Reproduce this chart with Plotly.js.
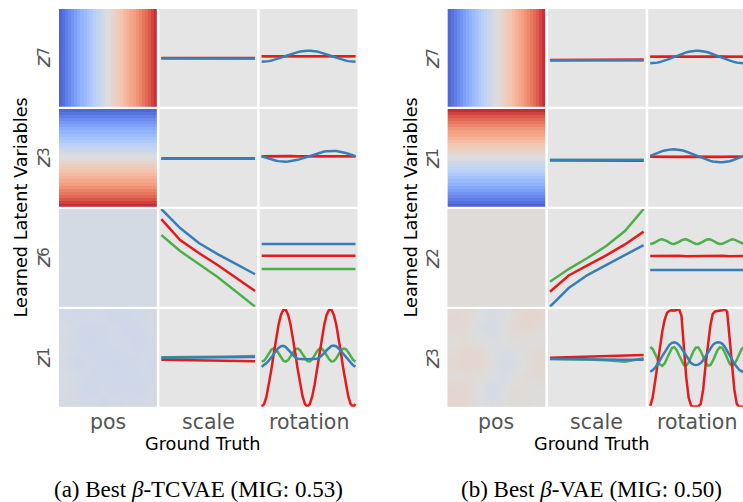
<!DOCTYPE html>
<html>
<head>
<meta charset="utf-8">
<script src="https://cdn.plot.ly/plotly-3.0.1.min.js"></script>
<style>
  html, body { margin: 0; padding: 0; background: #ffffff; }
  #chart { width: 743px; height: 502px; }
</style>
</head>
<body>
<div id="chart"></div>
<script>
// ---------- ground-truth factor values ----------
const scaleVals = [0.5, 0.6, 0.7, 0.8, 0.9, 1.0];
const rotDeg = [0, 9.2, 18.5, 27.7, 36.9, 46.2, 55.4, 64.6, 73.8, 83.1, 92.3, 101.5, 110.8, 120, 129.2,
  138.5, 147.7, 156.9, 166.2, 175.4, 184.6, 193.8, 203.1, 212.3, 221.5, 230.8, 240, 249.2, 258.5,
  267.7, 276.9, 286.2, 295.4, 304.6, 313.8, 323.1, 332.3, 341.5, 350.8, 360];
const rotDegCoarse = [0, 27.7, 55.4, 83.1, 110.8, 138.5, 166.2, 193.8, 221.5, 249.2, 276.9, 304.6, 332.3, 360];

const colLabels = ['pos', 'scale', 'rotation'];
const tcRowLabels = ['7', '3', '6', '1'];
const bvRowLabels = ['7', '1', '2', '3'];

// ---------- beta-TCVAE : mean latent vs position (coolwarm maps) ----------
const tcZ7Pos = [-0.88, -0.83, -0.77, -0.71, -0.65, -0.59, -0.53, -0.47, -0.42, -0.36, -0.31, -0.25, -0.19, -0.14, -0.08, -0.03,
  0.03, 0.08, 0.14, 0.19, 0.25, 0.31, 0.36, 0.42, 0.47, 0.53, 0.59, 0.65, 0.71, 0.77, 0.83, 0.88];
const tcZ3Pos = [-0.87, -0.82, -0.76, -0.70, -0.64, -0.58, -0.52, -0.47, -0.41, -0.35, -0.30, -0.24, -0.18, -0.13, -0.07, -0.02,
  0.04, 0.09, 0.15, 0.20, 0.26, 0.31, 0.37, 0.42, 0.48, 0.54, 0.60, 0.66, 0.72, 0.78, 0.84, 0.89];
const tcZ6Pos = -0.06;
const tcZ1Pos = [
  [-0.08, -0.09, -0.07, -0.08, -0.10, -0.09, -0.08, -0.07],
  [-0.04, -0.08, -0.10, -0.09, -0.08, -0.10, -0.09, -0.06],
  [-0.06, -0.09, -0.11, -0.10, -0.07, -0.08, -0.10, -0.08],
  [-0.05, -0.08, -0.09, -0.11, -0.10, -0.08, -0.09, -0.07],
  [-0.07, -0.10, -0.08, -0.09, -0.11, -0.10, -0.08, -0.09],
  [-0.03, -0.07, -0.09, -0.10, -0.09, -0.11, -0.09, -0.08],
  [-0.05, -0.08, -0.10, -0.08, -0.10, -0.09, -0.10, -0.07],
  [-0.06, -0.07, -0.08, -0.09, -0.08, -0.07, -0.08, -0.06]];

// ---------- beta-TCVAE : mean latent vs scale ----------
const tcZ7ScaleG = [-0.02, -0.02, -0.02, -0.02, -0.02, -0.02];
const tcZ7ScaleR = [-0.01, -0.01, -0.01, -0.01, -0.01, -0.01];
const tcZ7ScaleB = [-0.02, -0.02, -0.03, -0.02, -0.03, -0.03];
const tcZ3ScaleG = [-0.04, -0.04, -0.04, -0.04, -0.04, -0.04];
const tcZ3ScaleR = [-0.03, -0.03, -0.03, -0.03, -0.03, -0.03];
const tcZ3ScaleB = [-0.04, -0.04, -0.05, -0.04, -0.04, -0.05];
const tcZ6ScaleG = [1.14, 0.34, -0.31, -0.96, -1.69, -2.44];
const tcZ6ScaleR = [1.93, 0.89, 0.24, -0.36, -1.01, -1.66];
const tcZ6ScaleB = [2.44, 1.49, 0.74, 0.19, -0.31, -0.82];
const tcZ1ScaleG = [0.03, 0.03, 0.04, 0.05, 0.07, 0.09];
const tcZ1ScaleR = [-0.10, -0.11, -0.12, -0.14, -0.15, -0.17];
const tcZ1ScaleB = [0.01, 0.01, 0.01, 0.02, 0.03, 0.04];

// ---------- beta-TCVAE : mean latent vs rotation ----------
const tcZ7RotG = [0.08, 0.08, 0.08, 0.08, 0.08, 0.08, 0.08, 0.08, 0.08, 0.08, 0.08, 0.08, 0.08, 0.08];
const tcZ7RotR = [0.08, 0.08, 0.09, 0.08, 0.08, 0.09, 0.08, 0.08, 0.09, 0.08, 0.08, 0.09, 0.08, 0.08];
const tcZ7RotB = [-0.195, -0.191, -0.181, -0.164, -0.140, -0.110, -0.076, -0.038, 0.003, 0.047, 0.091, 0.135, 0.178,
  0.218, 0.254, 0.286, 0.312, 0.333, 0.347, 0.354, 0.354, 0.347, 0.333, 0.312, 0.286, 0.254, 0.218, 0.178,
  0.135, 0.091, 0.047, 0.003, -0.038, -0.076, -0.110, -0.140, -0.164, -0.181, -0.191, -0.195];
const tcZ3RotG = [0.08, 0.08, 0.08, 0.08, 0.08, 0.08, 0.08, 0.08, 0.08, 0.08, 0.08, 0.08, 0.08, 0.08];
const tcZ3RotR = [0.08, 0.09, 0.08, 0.08, 0.09, 0.08, 0.08, 0.08, 0.09, 0.08, 0.08, 0.09, 0.08, 0.08];
const tcZ3RotB = [0.080, 0.037, -0.005, -0.045, -0.082, -0.115, -0.142, -0.164, -0.179, -0.188, -0.190, -0.185, -0.172,
  -0.154, -0.129, -0.099, -0.064, -0.026, 0.015, 0.058, 0.102, 0.145, 0.186, 0.224, 0.259, 0.289, 0.314,
  0.332, 0.345, 0.350, 0.348, 0.339, 0.324, 0.302, 0.275, 0.242, 0.205, 0.165, 0.123, 0.080];
const tcZ6RotG = [-0.56, -0.56, -0.55, -0.56, -0.56, -0.57, -0.56, -0.56, -0.55, -0.56, -0.56, -0.56, -0.57, -0.56];
const tcZ6RotR = [0.11, 0.11, 0.10, 0.11, 0.12, 0.11, 0.10, 0.11, 0.11, 0.12, 0.11, 0.10, 0.11, 0.11];
const tcZ6RotB = [0.69, 0.69, 0.70, 0.69, 0.69, 0.68, 0.69, 0.70, 0.69, 0.69, 0.69, 0.70, 0.69, 0.69];
const tcZ1RotG = [-0.189, -0.139, 0.023, 0.232, 0.404, 0.470, 0.404, 0.232, 0.023, -0.139, -0.189, -0.107, 0.074,
  0.281, 0.432, 0.466, 0.369, 0.180, -0.025, -0.164, -0.180, -0.069, 0.127, 0.327, 0.453, 0.453, 0.327,
  0.127, -0.069, -0.180, -0.164, -0.025, 0.180, 0.369, 0.466, 0.432, 0.281, 0.074, -0.107, -0.189];
const tcZ1RotR = [-2.440, -2.308, -1.925, -1.334, -0.599, 0.202, 0.980, 1.653, 2.146, 2.407, 2.407, 2.146, 1.653,
  0.980, 0.202, -0.599, -1.334, -1.925, -2.308, -2.440, -2.308, -1.925, -1.334, -0.599, 0.202, 0.980, 1.653,
  2.146, 2.407, 2.407, 2.146, 1.653, 0.980, 0.202, -0.599, -1.334, -1.925, -2.308, -2.440, -2.308];
const tcZ1RotB = [-0.44, -0.36, -0.26, -0.13, 0.02, 0.18, 0.35, 0.50, 0.58, 0.60, 0.54, 0.42, 0.27, 0.13, 0.02,
  -0.04, -0.06, -0.07, -0.07, -0.07, -0.07, -0.07, -0.06, -0.04, 0.01, 0.10, 0.23, 0.38, 0.51, 0.59, 0.61,
  0.57, 0.47, 0.33, 0.17, 0.01, -0.14, -0.27, -0.37, -0.44];

// ---------- beta-VAE : mean latent vs position ----------
const bvZ7Pos = [-0.87, -0.82, -0.77, -0.71, -0.65, -0.59, -0.54, -0.48, -0.42, -0.37, -0.31, -0.25, -0.20, -0.14, -0.09, -0.03,
  0.02, 0.08, 0.13, 0.19, 0.24, 0.30, 0.36, 0.41, 0.47, 0.53, 0.58, 0.64, 0.70, 0.76, 0.82, 0.88];
const bvZ1Pos = [0.89, 0.83, 0.77, 0.71, 0.65, 0.59, 0.53, 0.47, 0.41, 0.36, 0.30, 0.24, 0.19, 0.13, 0.08, 0.02,
  -0.03, -0.09, -0.14, -0.20, -0.25, -0.31, -0.37, -0.42, -0.48, -0.54, -0.60, -0.66, -0.72, -0.78, -0.83, -0.89];
const bvZ2Pos = 0.02;
const bvZ3Pos = [
  [0.07, 0.06, 0.00, -0.04, -0.03, 0.04, 0.08, 0.07],
  [0.06, 0.04, -0.03, -0.06, -0.01, 0.06, 0.07, 0.04],
  [0.01, 0.03, 0.00, -0.03, 0.00, 0.03, 0.01, 0.00],
  [0.04, 0.07, 0.06, 0.00, -0.04, -0.03, 0.03, 0.06],
  [0.06, 0.08, 0.07, 0.01, -0.06, -0.04, 0.01, 0.07],
  [0.03, 0.04, 0.03, -0.01, -0.04, 0.00, 0.04, 0.06],
  [0.07, 0.06, 0.00, -0.06, -0.03, 0.03, 0.01, 0.00],
  [0.08, 0.07, 0.01, -0.04, -0.01, 0.04, 0.03, 0.01]];

// ---------- beta-VAE : mean latent vs scale ----------
const bvZ7ScaleG = [-0.12, -0.12, -0.12, -0.12, -0.12, -0.12];
const bvZ7ScaleR = [-0.11, -0.11, -0.10, -0.10, -0.09, -0.08];
const bvZ7ScaleB = [-0.12, -0.12, -0.12, -0.12, -0.12, -0.12];
const bvZ1ScaleG = [-0.11, -0.11, -0.11, -0.11, -0.11, -0.11];
const bvZ1ScaleR = [-0.12, -0.12, -0.13, -0.13, -0.13, -0.14];
const bvZ1ScaleB = [-0.11, -0.11, -0.11, -0.11, -0.11, -0.11];
const bvZ2ScaleG = [-1.19, -0.56, -0.01, 0.59, 1.34, 2.44];
const bvZ2ScaleR = [-1.69, -0.88, -0.38, 0.12, 0.67, 1.31];
const bvZ2ScaleB = [-2.44, -1.51, -0.86, -0.36, 0.12, 0.64];
const bvZ3ScaleG = [-0.05, -0.06, -0.08, -0.12, -0.19, -0.02];
const bvZ3ScaleR = [0.01, 0.03, 0.05, 0.07, 0.10, 0.14];
const bvZ3ScaleB = [-0.06, -0.06, -0.07, -0.08, -0.09, -0.10];

// ---------- beta-VAE : mean latent vs rotation ----------
const bvZ7RotG = [0.05, 0.05, 0.05, 0.05, 0.05, 0.05, 0.05, 0.05, 0.05, 0.05, 0.05, 0.05, 0.05, 0.05];
const bvZ7RotR = [0.06, 0.07, 0.05, 0.06, 0.07, 0.05, 0.06, 0.07, 0.05, 0.06, 0.07, 0.05, 0.06, 0.06];
const bvZ7RotB = [-0.275, -0.271, -0.259, -0.239, -0.212, -0.178, -0.139, -0.095, -0.048, 0.002, 0.053, 0.103, 0.152,
  0.198, 0.239, 0.276, 0.306, 0.330, 0.346, 0.354, 0.354, 0.346, 0.330, 0.306, 0.276, 0.239, 0.198, 0.152,
  0.103, 0.053, 0.002, -0.048, -0.095, -0.139, -0.178, -0.212, -0.239, -0.259, -0.271, -0.275];
const bvZ1RotG = [0.06, 0.06, 0.06, 0.06, 0.06, 0.06, 0.06, 0.06, 0.06, 0.06, 0.06, 0.06, 0.06, 0.06];
const bvZ1RotR = [0.05, 0.04, 0.06, 0.05, 0.04, 0.06, 0.05, 0.04, 0.06, 0.05, 0.04, 0.06, 0.05, 0.05];
const bvZ1RotB = [0.100, 0.152, 0.203, 0.251, 0.295, 0.334, 0.367, 0.394, 0.412, 0.423, 0.425, 0.418, 0.404, 0.381,
  0.352, 0.316, 0.274, 0.227, 0.178, 0.126, 0.074, 0.022, -0.027, -0.074, -0.116, -0.152, -0.181, -0.204,
  -0.218, -0.225, -0.223, -0.212, -0.194, -0.167, -0.134, -0.095, -0.051, -0.003, 0.048, 0.100];
const bvZ2RotG = [0.690, 0.714, 0.777, 0.853, 0.911, 0.930, 0.900, 0.834, 0.759, 0.704, 0.692, 0.727, 0.796, 0.870,
  0.920, 0.927, 0.886, 0.815, 0.742, 0.696, 0.696, 0.742, 0.815, 0.886, 0.927, 0.920, 0.870, 0.796, 0.727,
  0.692, 0.704, 0.759, 0.834, 0.900, 0.930, 0.911, 0.853, 0.777, 0.714, 0.690];
const bvZ2RotR = [0.09, 0.10, 0.08, 0.09, 0.10, 0.08, 0.09, 0.10, 0.08, 0.09, 0.10, 0.08, 0.09, 0.09];
const bvZ2RotB = [-0.61, -0.61, -0.60, -0.61, -0.61, -0.62, -0.61, -0.61, -0.60, -0.61, -0.61, -0.61, -0.62, -0.61];
const bvZ3RotG = [0.540, 0.446, 0.201, -0.097, -0.327, -0.398, -0.282, -0.024, 0.271, 0.486, 0.534, 0.396, 0.127,
  -0.165, -0.362, -0.386, -0.227, 0.051, 0.337, 0.516, 0.516, 0.337, 0.051, -0.227, -0.386, -0.362, -0.165,
  0.127, 0.396, 0.534, 0.486, 0.271, -0.024, -0.282, -0.398, -0.327, -0.097, 0.201, 0.446, 0.540];
const bvZ3RotR = [-2.40, -2.00, -1.20, -0.30, 0.50, 1.30, 1.90, 2.25, 2.35, 2.38, 2.36, 2.42, 2.44, 2.10, 0.30,
  -1.00, -2.00, -2.38, -2.44, -2.44, -2.42, -2.30, -1.60, -0.40, 0.60, 1.60, 2.20, 2.32, 2.34, 2.36, 2.38,
  2.44, 2.30, 1.00, -0.30, -1.60, -2.30, -2.44, -2.44, -2.42];
const bvZ3RotB = [-0.69, -0.62, -0.50, -0.33, -0.13, 0.09, 0.30, 0.50, 0.65, 0.75, 0.78, 0.74, 0.64, 0.48, 0.28,
  0.07, -0.12, -0.26, -0.34, -0.36, -0.34, -0.26, -0.12, 0.07, 0.28, 0.48, 0.64, 0.74, 0.78, 0.77, 0.70,
  0.56, 0.37, 0.15, -0.08, -0.30, -0.48, -0.60, -0.67, -0.70];

// ---------- styling ----------
const RED = '#e41a1c', BLUE = '#377eb8', GREEN = '#4daf4a';
const coolwarm = [
  [0.0, 'rgb(59,76,192)'], [0.125, 'rgb(98,130,234)'], [0.25, 'rgb(141,176,254)'],
  [0.375, 'rgb(184,208,249)'], [0.5, 'rgb(221,221,221)'], [0.625, 'rgb(245,196,173)'],
  [0.75, 'rgb(244,154,123)'], [0.875, 'rgb(222,96,76)'], [1.0, 'rgb(180,4,38)']];

const W = 743, H = 502;
const fx = x => x / W;
const fy = y => 1 - y / H;

// panel geometry (pixels)
const PW = 97.8, PH = 97.7;
const gridCols = [[59, 159.3, 259.7], [447.5, 547.9, 648.2]];
const rowTops = [9, 109, 209, 309];
const yLim = [-2.44, 2.44];

// per-grid panel contents
const grids = [
  {
    rows: tcRowLabels,
    pos: [{kind: 'h', z: tcZ7Pos}, {kind: 'v', z: tcZ3Pos}, {kind: 'flat', z: tcZ6Pos}, {kind: 'noise', z: tcZ1Pos}],
    scale: [[tcZ7ScaleG, tcZ7ScaleR, tcZ7ScaleB], [tcZ3ScaleG, tcZ3ScaleR, tcZ3ScaleB],
            [tcZ6ScaleG, tcZ6ScaleR, tcZ6ScaleB], [tcZ1ScaleG, tcZ1ScaleR, tcZ1ScaleB]],
    rot: [[tcZ7RotG, tcZ7RotR, tcZ7RotB], [tcZ3RotG, tcZ3RotR, tcZ3RotB],
          [tcZ6RotG, tcZ6RotR, tcZ6RotB], [tcZ1RotG, tcZ1RotR, tcZ1RotB]],
    zLabelX: 42, yTitleX: 20.5, gtX: 203, capX: 198.7,
    caption: '(a) Best <i>β</i>-TCVAE (MIG: 0.53)'
  },
  {
    rows: bvRowLabels,
    pos: [{kind: 'h', z: bvZ7Pos}, {kind: 'v', z: bvZ1Pos}, {kind: 'flat', z: bvZ2Pos}, {kind: 'noise', z: bvZ3Pos}],
    scale: [[bvZ7ScaleG, bvZ7ScaleR, bvZ7ScaleB], [bvZ1ScaleG, bvZ1ScaleR, bvZ1ScaleB],
            [bvZ2ScaleG, bvZ2ScaleR, bvZ2ScaleB], [bvZ3ScaleG, bvZ3ScaleR, bvZ3ScaleB]],
    rot: [[bvZ7RotG, bvZ7RotR, bvZ7RotB], [bvZ1RotG, bvZ1RotR, bvZ1RotB],
          [bvZ2RotG, bvZ2RotR, bvZ2RotB], [bvZ3RotG, bvZ3RotR, bvZ3RotB]],
    zLabelX: 431, yTitleX: 410.5, gtX: 592, capX: 591,
    caption: '(b) Best <i>β</i>-VAE (MIG: 0.50)'
  }
];

const traces = [];
const layout = {
  width: W, height: H,
  margin: {l: 0, r: 0, t: 0, b: 0, pad: 0},
  paper_bgcolor: '#ffffff',
  plot_bgcolor: '#e5e5e5',
  showlegend: false,
  hovermode: false,
  annotations: []
};

const baseAxis = {showgrid: false, zeroline: false, showticklabels: false, ticks: '', showline: false, fixedrange: true};
const GRAY = '#555555';
const colFont = {family: 'DejaVu Sans', size: 20.5, color: GRAY};
const zFont = {family: 'DejaVu Sans', size: 22, color: GRAY, style: 'italic'};
const subFont = {family: 'DejaVu Sans', size: 15, color: GRAY};
const titleFont = {family: 'DejaVu Sans', size: 17.7, color: '#000000'};
const capFont = {family: 'Liberation Serif', size: 23, color: '#000000'};

function addText(text, x, y, font, extra) {
  layout.annotations.push(Object.assign({
    text: text, x: fx(x), y: fy(y), xref: 'paper', yref: 'paper',
    xanchor: 'center', yanchor: 'middle', showarrow: false, borderpad: 0, font: font
  }, extra || {}));
}

grids.forEach((g, gi) => {
  for (let r = 0; r < 4; r++) {
    for (let c = 0; c < 3; c++) {
      const n = gi * 12 + r * 3 + c + 1;
      const sfx = n === 1 ? '' : String(n);
      const left = gridCols[gi][c];
      const right = Math.min(W, left + PW);
      const top = rowTops[r];
      const xa = Object.assign({}, baseAxis, {domain: [fx(left), fx(right)], anchor: 'y' + sfx});
      const ya = Object.assign({}, baseAxis, {domain: [fy(top + PH), fy(top)], anchor: 'x' + sfx});
      const ref = {xaxis: 'x' + sfx, yaxis: 'y' + sfx};
      const visibleFrac = (right - left) / PW;

      if (c === 0) {
        const p = g.pos[r];
        const hm = Object.assign({type: 'heatmap', colorscale: coolwarm, zmin: -1, zmax: 1,
                                  showscale: false, hoverinfo: 'skip'}, ref);
        if (p.kind === 'h') {
          hm.z = [p.z];
          xa.range = [-0.5, p.z.length - 0.5]; ya.range = [-0.5, 0.5];
        } else if (p.kind === 'v') {
          hm.z = p.z.map(v => [v]);
          xa.range = [-0.5, 0.5]; ya.range = [p.z.length - 0.5, -0.5];
        } else if (p.kind === 'flat') {
          hm.z = [[p.z, p.z], [p.z, p.z]];
          xa.range = [-0.5, 1.5]; ya.range = [-0.5, 1.5];
        } else {
          hm.z = p.z; hm.zsmooth = 'best';
          xa.range = [-0.5, p.z[0].length - 0.5]; ya.range = [p.z.length - 0.5, -0.5];
        }
        traces.push(hm);
      } else {
        const series = c === 1 ? g.scale[r] : g.rot[r];
        const colors = [GREEN, RED, BLUE];
        series.forEach((ys, k) => {
          let xs;
          if (c === 1) xs = scaleVals;
          else xs = ys.length === rotDeg.length ? rotDeg : rotDegCoarse;
          traces.push(Object.assign({type: 'scatter', mode: 'lines', x: xs, y: ys,
            line: {color: colors[k], width: 2.5}, hoverinfo: 'skip'}, ref));
        });
        let x0, x1;
        if (c === 1) { x0 = 0.489; x1 = 1.011; } else { x0 = -7.7; x1 = 367.7; }
        xa.range = [x0, x0 + (x1 - x0) * visibleFrac];
        ya.range = yLim;
      }
      layout['xaxis' + sfx] = xa;
      layout['yaxis' + sfx] = ya;
    }
    // latent variable label for this row: italic z with its index as a subscript
    const rc = rowTops[r] + PH / 2;
    addText('z', g.zLabelX, rc + 4.5, zFont, {textangle: -90});
    addText(g.rows[r], g.zLabelX + 2.5, rc - 5.5, subFont, {textangle: -90});
  }
  // column labels
  for (let c = 0; c < 3; c++) {
    addText(colLabels[c], gridCols[gi][c] + PW / 2, 421.5, colFont);
  }
  addText('Ground Truth', g.gtX, 443.5, titleFont);
  addText('Learned Latent Variables', g.yTitleX, 208, titleFont, {textangle: -90});
  addText(g.caption, g.capX, 489.5, capFont);
});

Plotly.newPlot('chart', traces, layout, {staticPlot: true, displayModeBar: false});
</script>
</body>
</html>
